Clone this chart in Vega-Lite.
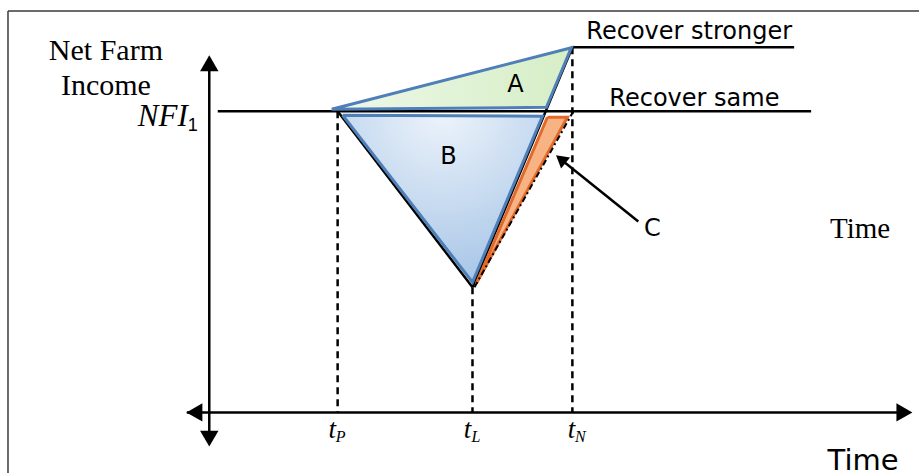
{
  "$schema": "https://vega.github.io/schema/vega-lite/v6.json",
  "width": 920,
  "height": 476,
  "padding": 0,
  "autosize": {"type": "fit", "contains": "padding"},
  "background": "#ffffff",
  "config": {"view": {"stroke": null}},
  "datasets": {
    "areaA": [
      {"t": 123, "lo": 305, "hi": 305},
      {"t": 338, "lo": 307, "hi": 360.5},
      {"t": 363, "lo": 367, "hi": 367}
    ],
    "areaB": [
      {"t": 134, "lo": 299, "hi": 299},
      {"t": 264, "lo": 131, "hi": 299},
      {"t": 334, "lo": 298, "hi": 298}
    ],
    "areaC": [
      {"t": 268, "lo": 130, "hi": 130},
      {"t": 339, "lo": 260, "hi": 297},
      {"t": 359, "lo": 297, "hi": 297}
    ],
    "outlines": [
      {"shape": "A", "o": 0, "t": 123, "v": 305},
      {"shape": "A", "o": 1, "t": 363, "v": 367},
      {"shape": "A", "o": 2, "t": 338, "v": 307},
      {"shape": "A", "o": 3, "t": 123, "v": 305},
      {"shape": "B", "o": 0, "t": 134, "v": 299},
      {"shape": "B", "o": 1, "t": 334, "v": 298},
      {"shape": "B", "o": 2, "t": 264, "v": 131},
      {"shape": "B", "o": 3, "t": 134, "v": 299}
    ],
    "outlineC": [
      {"o": 0, "t": 339, "v": 297},
      {"o": 1, "t": 359, "v": 297},
      {"o": 2, "t": 268, "v": 130},
      {"o": 3, "t": 339, "v": 297}
    ],
    "paths": [
      {"seg": "nfi", "o": 0, "t": 9, "v": 303},
      {"seg": "nfi", "o": 1, "t": 603, "v": 303},
      {"seg": "down", "o": 0, "t": 129, "v": 303},
      {"seg": "down", "o": 1, "t": 264, "v": 126},
      {"seg": "strong", "o": 0, "t": 264, "v": 126},
      {"seg": "strong", "o": 1, "t": 364, "v": 367.5},
      {"seg": "strong", "o": 2, "t": 586, "v": 367.5}
    ],
    "same": [
      {"o": 0, "t": 266, "v": 126},
      {"o": 1, "t": 365, "v": 303}
    ],
    "verticals": [
      {"t": 129, "v": 303, "v2": 0},
      {"t": 264, "v": 126, "v2": 0},
      {"t": 364, "v": 367.5, "v2": 0}
    ],
    "axesH": [{"t": -22, "t2": 692, "v": 0}],
    "axesV": [{"t": 0.5, "v": -30, "v2": 355}],
    "borderH": [{"t": -201, "t2": 711, "v": 404}],
    "borderV": [{"t": -201, "v": -61, "v2": 404}],
    "arrowUp": [{"t": 0.5, "v": 351.4}],
    "arrowDown": [{"t": 0.5, "v": -26.4}],
    "arrowLeft": [{"t": -14.4, "v": 0}],
    "arrowRight": [{"t": 696.4, "v": 0}],
    "pointerLine": [{"t": 352, "v": 255, "t2": 430, "v2": 192}],
    "pointerHead": [{"t": 352.4, "v": 254.9}],
    "serif": [
      {"t": -103, "v": 355, "label": "Net Farm"},
      {"t": -103, "v": 319, "label": "Income"}
    ],
    "timeRight": [{"t": 652, "v": 175, "label": "Time"}],
    "nfi": [{"t": -21, "v": 288, "label": "NFI"}],
    "nfiSub": [{"t": -16, "v": 283, "label": "1"}],
    "recover": [
      {"t": 378, "v": 376, "label": "Recover stronger"},
      {"t": 401, "v": 308.5, "label": "Recover same"}
    ],
    "regions": [
      {"t": 307, "v": 322, "label": "A"},
      {"t": 240, "v": 250, "label": "B"},
      {"t": 444, "v": 178, "label": "C"}
    ],
    "timeBottom": [{"t": 655, "v": -58, "label": "Time"}],
    "ticksT": [
      {"t": 123.5, "v": -26, "label": "t"},
      {"t": 259, "v": -26, "label": "t"},
      {"t": 363, "v": -26, "label": "t"}
    ],
    "ticksSub": [
      {"t": 132, "v": -30, "label": "P"},
      {"t": 267.5, "v": -30, "label": "L"},
      {"t": 372, "v": -30, "label": "N"}
    ]
  },
  "encoding": {
    "x": {"field": "t", "type": "quantitative", "axis": null, "scale": {"domain": [-209, 711], "nice": false, "zero": false}},
    "y": {"field": "v", "type": "quantitative", "axis": null, "scale": {"domain": [-61, 415], "nice": false, "zero": false}}
  },
  "layer": [
    {"data": {"name": "borderH"}, "mark": {"type": "rule", "color": "#3a3a3a", "strokeWidth": 1.5}, "encoding": {"x2": {"field": "t2"}}},
    {"data": {"name": "borderV"}, "mark": {"type": "rule", "color": "#3a3a3a", "strokeWidth": 1.5}, "encoding": {"y2": {"field": "v2"}}},
    {"data": {"name": "paths"}, "mark": {"type": "line", "color": "#000000", "strokeWidth": 2.5}, "encoding": {"order": {"field": "o"}, "detail": {"field": "seg"}}},
    {"data": {"name": "verticals"}, "mark": {"type": "rule", "color": "#000000", "strokeWidth": 2.5, "strokeDash": [7, 5]}, "encoding": {"y2": {"field": "v2"}}},
    {"data": {"name": "areaA"}, "mark": {"type": "area", "fill": {"gradient": "linear", "x1": 0, "y1": 0, "x2": 1, "y2": 0, "stops": [{"offset": 0, "color": "#eef8e8"}, {"offset": 1, "color": "#d6eec6"}]}, "opacity": 1}, "encoding": {"y": {"field": "lo"}, "y2": {"field": "hi"}}},
    {"data": {"name": "areaB"}, "mark": {"type": "area", "fill": {"gradient": "radial", "x1": 0.5, "y1": 0.05, "r1": 0, "x2": 0.5, "y2": 0.05, "r2": 1, "stops": [{"offset": 0, "color": "#eef4fb"}, {"offset": 1, "color": "#9dbfe4"}]}, "opacity": 1}, "encoding": {"y": {"field": "lo"}, "y2": {"field": "hi"}}},
    {"data": {"name": "areaC"}, "mark": {"type": "area", "fill": "#f7b384", "opacity": 1}, "encoding": {"y": {"field": "lo"}, "y2": {"field": "hi"}}},
    {"data": {"name": "outlines"}, "mark": {"type": "line", "color": "#4f7fb9", "strokeWidth": 3, "strokeJoin": "miter"}, "encoding": {"order": {"field": "o"}, "detail": {"field": "shape"}}},
    {"data": {"name": "outlineC"}, "mark": {"type": "line", "color": "#e2692a", "strokeWidth": 3, "strokeJoin": "miter"}, "encoding": {"order": {"field": "o"}}},
    {"data": {"name": "same"}, "mark": {"type": "line", "color": "#000000", "strokeWidth": 2, "strokeDash": [6, 3, 2, 3]}, "encoding": {"order": {"field": "o"}}},
    {"data": {"name": "axesH"}, "mark": {"type": "rule", "color": "#000000", "strokeWidth": 2.5}, "encoding": {"x2": {"field": "t2"}}},
    {"data": {"name": "axesV"}, "mark": {"type": "rule", "color": "#000000", "strokeWidth": 2.5}, "encoding": {"y2": {"field": "v2"}}},
    {"data": {"name": "arrowUp"}, "mark": {"type": "point", "shape": "triangle-up", "filled": true, "color": "#000000", "size": 340, "opacity": 1}},
    {"data": {"name": "arrowDown"}, "mark": {"type": "point", "shape": "triangle-down", "filled": true, "color": "#000000", "size": 340, "opacity": 1}},
    {"data": {"name": "arrowLeft"}, "mark": {"type": "point", "shape": "triangle-left", "filled": true, "color": "#000000", "size": 340, "opacity": 1}},
    {"data": {"name": "arrowRight"}, "mark": {"type": "point", "shape": "triangle-right", "filled": true, "color": "#000000", "size": 340, "opacity": 1}},
    {"data": {"name": "pointerLine"}, "mark": {"type": "rule", "color": "#000000", "strokeWidth": 2.5}, "encoding": {"x2": {"field": "t2"}, "y2": {"field": "v2"}}},
    {"data": {"name": "pointerHead"}, "mark": {"type": "point", "shape": "triangle-up", "filled": true, "color": "#000000", "size": 200, "angle": 309, "opacity": 1}},
    {"data": {"name": "serif"}, "mark": {"type": "text", "font": "Liberation Serif", "fontSize": 30, "align": "center", "baseline": "alphabetic", "color": "#000000"}, "encoding": {"text": {"field": "label"}}},
    {"data": {"name": "timeRight"}, "mark": {"type": "text", "font": "Liberation Serif", "fontSize": 29, "align": "center", "baseline": "alphabetic", "color": "#000000"}, "encoding": {"text": {"field": "label"}}},
    {"data": {"name": "nfi"}, "mark": {"type": "text", "font": "Liberation Serif", "fontSize": 31, "fontStyle": "italic", "align": "right", "baseline": "alphabetic", "color": "#000000"}, "encoding": {"text": {"field": "label"}}},
    {"data": {"name": "nfiSub"}, "mark": {"type": "text", "font": "Liberation Sans", "fontSize": 18, "align": "center", "baseline": "alphabetic", "color": "#000000"}, "encoding": {"text": {"field": "label"}}},
    {"data": {"name": "recover"}, "mark": {"type": "text", "font": "DejaVu Sans", "fontSize": 24, "align": "left", "baseline": "alphabetic", "color": "#000000"}, "encoding": {"text": {"field": "label"}}},
    {"data": {"name": "regions"}, "mark": {"type": "text", "font": "DejaVu Sans", "fontSize": 24, "align": "center", "baseline": "alphabetic", "color": "#000000"}, "encoding": {"text": {"field": "label"}}},
    {"data": {"name": "timeBottom"}, "mark": {"type": "text", "font": "DejaVu Sans", "fontSize": 29, "align": "center", "baseline": "alphabetic", "color": "#000000"}, "encoding": {"text": {"field": "label"}}},
    {"data": {"name": "ticksT"}, "mark": {"type": "text", "font": "Liberation Serif", "fontSize": 27, "fontStyle": "italic", "align": "center", "baseline": "alphabetic", "color": "#000000"}, "encoding": {"text": {"field": "label"}}},
    {"data": {"name": "ticksSub"}, "mark": {"type": "text", "font": "Liberation Serif", "fontSize": 16, "fontStyle": "italic", "align": "center", "baseline": "alphabetic", "color": "#000000"}, "encoding": {"text": {"field": "label"}}}
  ]
}
